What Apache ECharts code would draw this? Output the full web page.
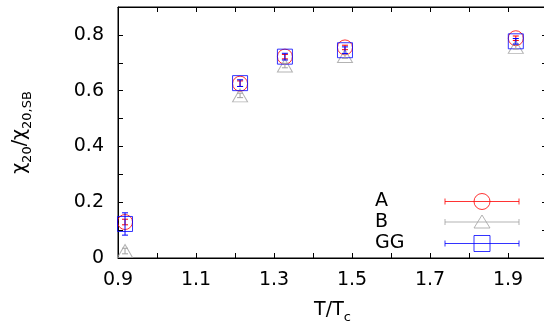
<!DOCTYPE html>
<html>
<head>
<meta charset="utf-8">
<script src="https://cdn.jsdelivr.net/npm/echarts@6/dist/echarts.min.js"></script>
<style>
html, body { margin: 0; padding: 0; background: #fff; }
#chart { width: 544px; height: 323px; }
</style>
</head>
<body>
<div id="chart"></div>
<script>
// T/Tc positions of the lattice points
const temps = [0.918, 1.213, 1.328, 1.482, 1.92]
// chi20 / chi20,SB with errors
const valA = [0.129, 0.625, 0.722, 0.755, 0.788]
const errA = [0.010, 0.010, 0.008, 0.008, 0.008]
const valB = [0.025, 0.583, 0.690, 0.724, 0.757]
const errB = [0.010, 0.008, 0.008, 0.008, 0.008]
const valGG = [0.122, 0.627, 0.722, 0.745, 0.777]
const errGG = [0.040, 0.012, 0.012, 0.012, 0.010]

const xTicks = { min: 0.9, max: 2.0, step: 0.1 }
const yTicks = { min: 0, max: 0.9, step: 0.1 }

const FONT = 'DejaVu Sans'
const RED = '#ff0000', GRAY = '#a0a0a0', BLUE = '#0000ff'

let myChart = echarts.init(document.getElementById('chart'))

function points(vals) {
    return temps.map((t, i) => [t, vals[i]])
}
function bars(vals, errs) {
    return temps.map((t, i) => [t, vals[i] - errs[i], vals[i] + errs[i]])
}

function errorSeries(name, vals, errs, color) {
    return {
        name: name,
        type: 'custom',
        data: bars(vals, errs),
        z: 5,
        silent: true,
        encode: { x: 0, y: [1, 2] },
        renderItem: function (params, api) {
            let lo = api.coord([api.value(0), api.value(1)])
            let hi = api.coord([api.value(0), api.value(2)])
            let w = 3
            let st = { stroke: color, lineWidth: 1 }
            return {
                type: 'group',
                children: [
                    { type: 'line', shape: { x1: lo[0], y1: lo[1], x2: hi[0], y2: hi[1] }, style: st },
                    { type: 'line', shape: { x1: lo[0] - w, y1: lo[1], x2: lo[0] + w, y2: lo[1] }, style: st },
                    { type: 'line', shape: { x1: hi[0] - w, y1: hi[1], x2: hi[0] + w, y2: hi[1] }, style: st }
                ]
            }
        }
    }
}

function markSeries(name, vals, symbol, size, color) {
    return {
        name: name,
        type: 'scatter',
        data: points(vals),
        symbol: symbol,
        symbolSize: size,
        itemStyle: { color: 'transparent', borderColor: color, borderWidth: 1 },
        emphasis: { disabled: true }
    }
}

// legend samples: error bar with the marker in the middle (74 x 16 box)
const iconA = 'path://M0 8L74 8M0 5L0 11M74 5L74 11M45 8A8 8 0 1 1 29 8A8 8 0 1 1 45 8'
const iconB = 'path://M37 16M0 8L74 8M0 5L0 11M74 5L74 11M29 14L37 1L45 14Z'
const iconGG = 'path://M0 8L74 8M0 5L0 11M74 5L74 11M29 0L45 0L45 16L29 16Z'

function frameAxis(pos, range, labels) {
    return {
        type: 'value',
        position: pos,
        min: range.min, max: range.max, interval: range.step,
        axisLine: { show: true, onZero: false, lineStyle: { color: '#000', width: 1 } },
        axisTick: { show: true, inside: true, length: 5, lineStyle: { color: '#000' } },
        splitLine: { show: false },
        axisLabel: labels || { show: false }
    }
}

const subRich = {
    c: { fontFamily: FONT, fontSize: 19, color: '#000', lineHeight: 19 },
    s: { fontFamily: FONT, fontSize: 13, color: '#000', lineHeight: 28, verticalAlign: 'bottom' }
}

let xBottom = frameAxis('bottom', xTicks, {
    margin: 13,
    color: '#000', fontFamily: FONT, fontSize: 19,
    formatter: v => (Math.round(v * 10) % 2 === 1 ? v.toFixed(1) : '')
})
xBottom.name = '{c|T/T}{s|c}'
xBottom.nameLocation = 'middle'
xBottom.nameGap = 38
xBottom.nameTextStyle = { rich: subRich }

let yLeft = frameAxis('left', yTicks, {
    margin: 14,
    color: '#000', fontFamily: FONT, fontSize: 19,
    formatter: v => {
        let k = Math.round(v * 10)
        if (k % 2 !== 0) return ''
        return k === 0 ? '0' : v.toFixed(1)
    }
})
yLeft.name = '{c|χ}{s|20}{c|/χ}{s|20,SB}'
yLeft.nameLocation = 'middle'
yLeft.nameGap = 84
yLeft.nameTextStyle = { rich: subRich }

let option = {
    animation: false,
    backgroundColor: '#fff',
    grid: {
        left: 118, right: -3, top: 7, bottom: 65, outerBoundsMode: 'none',
        show: true, borderColor: '#000', borderWidth: 1, backgroundColor: 'transparent'
    },
    legend: {
        orient: 'vertical',
        align: 'right',
        left: 375,
        top: 192,
        padding: 0,
        itemWidth: 74,
        itemHeight: 16,
        itemGap: 2,
        selectedMode: false,
        formatter: name => '{n|' + name + '}',
        textStyle: {
            rich: { n: { width: 65, lineHeight: 16, align: 'left', fontFamily: FONT, fontSize: 19, color: '#000' } }
        },
        data: [
            { name: 'A', icon: iconA, itemStyle: { color: 'transparent', borderColor: RED, borderWidth: 1 } },
            { name: 'B', icon: iconB, itemStyle: { color: 'transparent', borderColor: GRAY, borderWidth: 1 } },
            { name: 'GG', icon: iconGG, itemStyle: { color: 'transparent', borderColor: BLUE, borderWidth: 1 } }
        ]
    },
    xAxis: [xBottom, frameAxis('top', xTicks)],
    yAxis: [yLeft, frameAxis('right', yTicks)],
    series: [
        markSeries('A', valA, 'circle', 15, RED),
        markSeries('B', valB, 'triangle', [15, 13], GRAY),
        markSeries('GG', valGG, 'rect', 15, BLUE),
        errorSeries('A', valA, errA, RED),
        errorSeries('B', valB, errB, GRAY),
        errorSeries('GG', valGG, errGG, BLUE)
    ]
}

myChart.setOption(option)
</script>
</body>
</html>
